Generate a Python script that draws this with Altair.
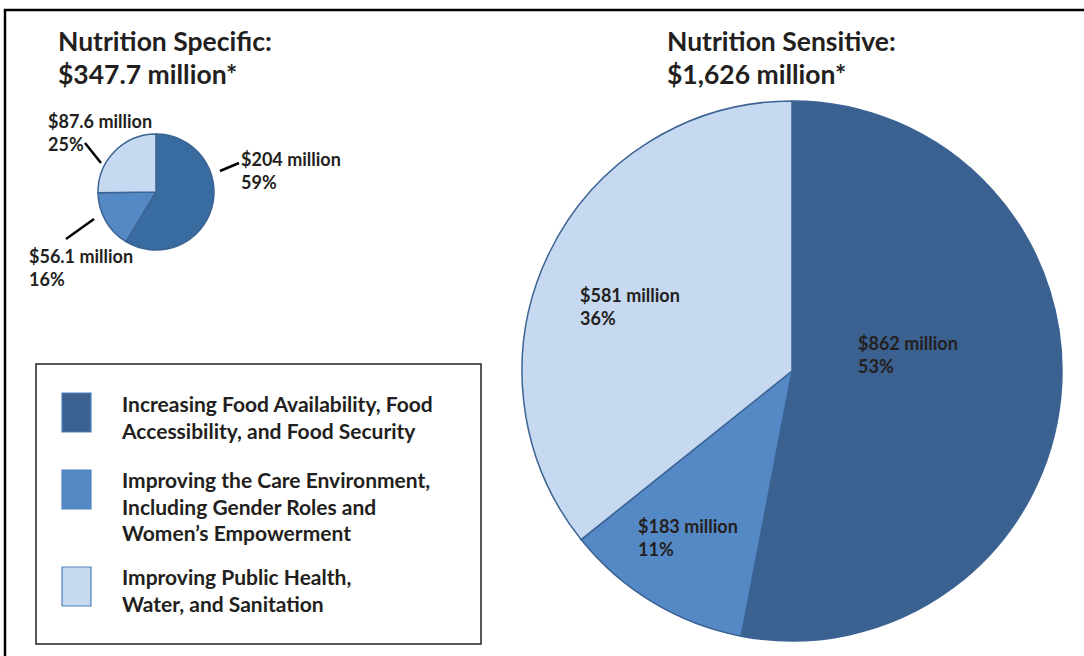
import altair as alt
import pandas as pd

# ---- data ----
categories = [
    "Increasing Food Availability, Food Accessibility, and Food Security",
    "Improving the Care Environment, Including Gender Roles and Women's Empowerment",
    "Improving Public Health, Water, and Sanitation",
]
specific_values = [204, 56.1, 87.6]      # $ million
specific_pct = [59, 16, 25]
sensitive_values = [862, 183, 581]       # $ million
sensitive_pct = [53, 11, 36]
specific_title = ["Nutrition Specific:", "$347.7 million*"]
sensitive_title = ["Nutrition Sensitive:", "$1,626 million*"]
legend_lines = [
    ["Increasing Food Availability, Food", "\u00a0Accessibility, and Food Security"],
    ["Improving the Care Environment,", "Including Gender Roles and", "Women\u2019s Empowerment"],
    ["Improving Public Health,", "Water, and Sanitation"],
]

FONT = "Lato"
DARK_BIG = "#3A6190"
DARK_SMALL = "#386B9F"
MED = "#5589C5"
LIGHT = "#C6D9F0"
EDGE = "#3B6393"

spec_df = pd.DataFrame({"cat": categories, "value": specific_values, "idx": [0, 1, 2]})
sens_df = pd.DataFrame({"cat": categories, "value": sensitive_values, "idx": [0, 1, 2]})
one = pd.DataFrame({"k": [0]})


def label(v, p):
    return [f"${v:g} million", f"{p}%"]


def pie(df, cx, cy, r, dark):
    return alt.Chart(df).mark_arc(radius=r, stroke=EDGE, strokeWidth=1.5).encode(
        theta=alt.Theta("value:Q", stack=True),
        color=alt.Color("cat:N", scale=alt.Scale(domain=categories, range=[dark, MED, LIGHT]), legend=None),
        order=alt.Order("idx:Q"),
        x=alt.value(cx),
        y=alt.value(cy),
    )


def text(lines, x, y, size=18, lh=23):
    return alt.Chart(one).mark_text(
        text=lines, align="left", baseline="middle", font=FONT, fontWeight="bold",
        fontSize=size, lineHeight=lh, color="#231F20",
    ).encode(x=alt.value(x), y=alt.value(y))


def seg(x1, y1, x2, y2, w=2.5, color="black"):
    return alt.Chart(one).mark_rule(color=color, strokeWidth=w).encode(
        x=alt.value(x1), y=alt.value(y1), x2=alt.value(x2), y2=alt.value(y2)
    )


def box(x1, y1, x2, y2, stroke, w, fill=None):
    kw = dict(stroke=stroke, strokeWidth=w)
    if fill is None:
        kw["fillOpacity"] = 0
        kw["fill"] = "white"
    else:
        kw["fill"] = fill
    return alt.Chart(one).mark_rect(**kw).encode(
        x=alt.value(x1), y=alt.value(y1), x2=alt.value(x2), y2=alt.value(y2)
    )


layers = []
# outer frame
layers.append(box(5, 10, 1200, 800, "black", 2.5))

# pies
layers.append(pie(spec_df, 156, 192, 58, DARK_SMALL))
layers.append(pie(sens_df, 792, 371, 270, DARK_BIG))

# titles
layers.append(text(specific_title, 58, 43, size=26.5, lh=33))
layers.append(text(sensitive_title, 667, 43, size=26.5, lh=33))

# small pie labels + leaders
layers.append(text(label(specific_values[0], specific_pct[0]), 241, 161))
layers.append(text(label(specific_values[2], specific_pct[2]), 48, 123))
layers.append(text(label(specific_values[1], specific_pct[1]), 29, 258))
layers.append(seg(220, 171, 239, 163))
layers.append(seg(85, 143, 101, 163))
layers.append(seg(66, 239, 94, 219))

# big pie labels
layers.append(text(label(sensitive_values[0], sensitive_pct[0]), 858, 345))
layers.append(text(label(sensitive_values[1], sensitive_pct[1]), 638, 528))
layers.append(text(label(sensitive_values[2], sensitive_pct[2]), 580, 297))

# legend box
layers.append(box(36, 364, 481, 644, "#222222", 1.5))
sw_colors = [DARK_BIG, MED, LIGHT]
sw_tops = [393, 470, 567]
txt_y = [406, 482, 579]
for c, t, ty, lines in zip(sw_colors, sw_tops, txt_y, legend_lines):
    layers.append(box(62, t, 91, t + 39, "#4F81BD", 1.2, fill=c))
    layers.append(text(lines, 122, ty, size=21, lh=26.5))

chart = alt.layer(*layers).resolve_scale(
    theta="independent", color="independent"
).properties(
    width=1084, height=656, autosize=alt.AutoSizeParams(type="none"), padding=0,
    background="white",
).configure_view(stroke=None)

chart.save("out.html", embed_options={"renderer": "svg", "actions": False})
